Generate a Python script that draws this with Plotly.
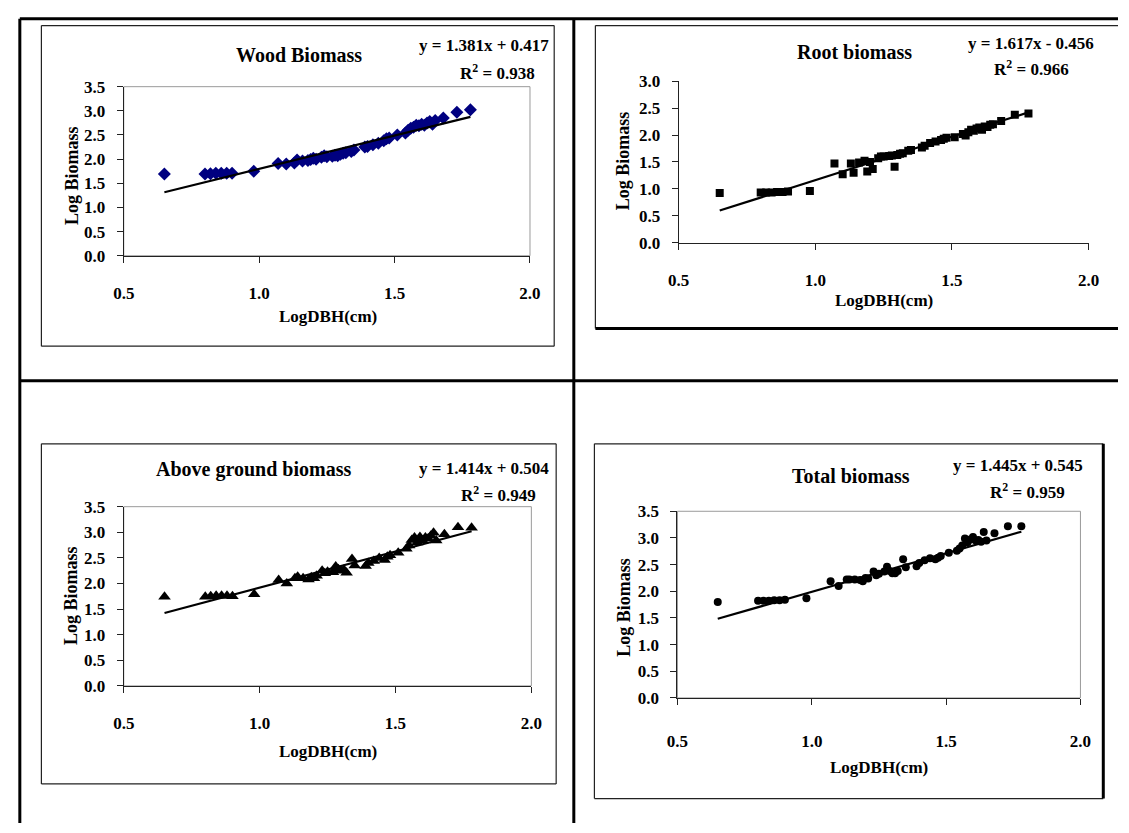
import plotly.graph_objects as go

W, H = 1129, 833

# ---------------- data ----------------
log_dbh = [0.65, 0.80, 0.82, 0.84, 0.86, 0.88, 0.90, 0.98, 1.07, 1.10, 1.13, 1.14, 1.16, 1.18, 1.19,
           1.20, 1.21, 1.23, 1.24, 1.25, 1.27, 1.28, 1.29, 1.30, 1.31, 1.32, 1.34, 1.35, 1.39, 1.40,
           1.42, 1.44, 1.46, 1.47, 1.48, 1.51, 1.54, 1.55, 1.56, 1.57, 1.58, 1.59, 1.60, 1.61, 1.62,
           1.63, 1.64, 1.65, 1.68, 1.73, 1.78]

wood_log_biomass = [1.69, 1.69, 1.70, 1.71, 1.71, 1.71, 1.71, 1.75, 1.91, 1.90, 1.92, 1.98, 1.96, 1.97, 1.99,
                    2.02, 2.00, 2.04, 2.07, 2.05, 2.06, 2.08, 2.07, 2.10, 2.12, 2.13, 2.16, 2.19, 2.25, 2.26,
                    2.30, 2.33, 2.38, 2.42, 2.44, 2.50, 2.54, 2.60, 2.64, 2.66, 2.70, 2.69, 2.72, 2.70, 2.75,
                    2.78, 2.72, 2.80, 2.85, 2.97, 3.02]

root_log_biomass = [0.92, 0.93, 0.93, 0.93, 0.94, 0.94, 0.95, 0.96, 1.47, 1.27, 1.47, 1.30, 1.49, 1.52, 1.32,
                    1.50, 1.37, 1.57, 1.60, 1.60, 1.61, 1.62, 1.41, 1.63, 1.65, 1.66, 1.71, 1.72, 1.77, 1.80,
                    1.85, 1.88, 1.91, 1.93, 1.95, 1.96, 2.02, 1.99, 2.05, 2.10, 2.08, 2.12, 2.14, 2.10, 2.16,
                    2.15, 2.19, 2.20, 2.26, 2.38, 2.40]

above_log_biomass = [1.74, 1.74, 1.75, 1.76, 1.76, 1.76, 1.75, 1.79, 2.07, 2.00, 2.10, 2.13, 2.10, 2.08, 2.12,
                     2.10, 2.15, 2.25, 2.20, 2.23, 2.22, 2.33, 2.28, 2.25, 2.27, 2.21, 2.48, 2.35, 2.34, 2.40,
                     2.44, 2.50, 2.46, 2.52, 2.55, 2.60, 2.68, 2.74, 2.85, 2.90, 2.80, 2.91, 2.84, 2.90, 2.88,
                     2.93, 2.99, 2.84, 2.96, 3.10, 3.09]

total_log_biomass = [1.80, 1.82, 1.82, 1.82, 1.83, 1.83, 1.84, 1.87, 2.19, 2.10, 2.22, 2.22, 2.22, 2.21, 2.19,
                     2.25, 2.24, 2.37, 2.30, 2.33, 2.37, 2.46, 2.38, 2.34, 2.34, 2.38, 2.60, 2.45, 2.47, 2.53,
                     2.58, 2.62, 2.60, 2.63, 2.66, 2.72, 2.76, 2.80, 2.86, 2.99, 2.92, 2.97, 3.02, 2.95, 2.96,
                     2.93, 3.11, 2.95, 3.09, 3.22, 3.22]

panel_titles = ["Wood Biomass", "Root biomass", "Above ground biomass", "Total biomass"]
slopes = [1.381, 1.617, 1.414, 1.445]
intercepts = [0.417, -0.456, 0.504, 0.545]
r_squared = ["0.938", "0.966", "0.949", "0.959"]
equations = ["y = 1.381x + 0.417", "y = 1.617x - 0.456", "y = 1.414x + 0.504", "y = 1.445x + 0.545"]
x_ticks = [0.5, 1.0, 1.5, 2.0]
y_ticks_35 = [0.0, 0.5, 1.0, 1.5, 2.0, 2.5, 3.0, 3.5]
y_ticks_30 = [0.0, 0.5, 1.0, 1.5, 2.0, 2.5, 3.0]

series = [wood_log_biomass, root_log_biomass, above_log_biomass, total_log_biomass]

# ---------------- styling / layout (pixel geometry) ----------------
FONT = "Liberation Serif"
plot_px = [(115, 529.3, 79.5, 252.5),
           (681, 1099, 74, 239),
           (115, 530.7, 509.3, 692.7),
           (679.7, 1090.7, 514, 705)]
y_ranges = [[0, 3.5], [0, 3.0], [0, 3.5], [0, 3.5]]
y_tickvals = [y_ticks_35, y_ticks_30, y_ticks_35, y_ticks_35]
markers = [dict(symbol="diamond", size=10, color="#000080"),
           dict(symbol="square", size=8, color="black"),
           dict(symbol="triangle-up", size=11, color="black"),
           dict(symbol="circle", size=8, color="black")]
borders = [True, False, True, True]
xlab_standoff = [16, 16, 16, 22]

txt_pos = [
    dict(title=(294, 47), eq=(482, 37), r2=(496, 64), yt=(62, 170), xt=(323, 315)),
    dict(title=(860, 44), eq=(1040, 35), r2=(1041, 60), yt=(625, 155), xt=(890, 298)),
    dict(title=(247, 471), eq=(482, 470), r2=(497, 496), yt=(62, 600), xt=(323, 760)),
    dict(title=(857, 478), eq=(1027, 467), r2=(1037, 493), yt=(625, 612), xt=(885, 776)),
]

def px_x(v):
    return v / W

def px_y(v):
    return 1 - v / H

def bfont(size):
    return dict(family=FONT, size=size, color="black", weight="bold")

fig = go.Figure()
annotations = []
shapes = []

for i in range(4):
    ax = "" if i == 0 else str(i + 1)
    xref, yref = "x" + ax, "y" + ax
    xs = log_dbh
    ys = series[i]
    fig.add_trace(go.Scatter(x=xs, y=ys, mode="markers", marker=markers[i],
                             xaxis=xref, yaxis=yref, showlegend=False, hoverinfo="skip"))
    x_line = [min(xs), max(xs)]
    y_line = [slopes[i] * v + intercepts[i] for v in x_line]
    fig.add_trace(go.Scatter(x=x_line, y=y_line, mode="lines",
                             line=dict(color="black", width=2.2),
                             xaxis=xref, yaxis=yref, showlegend=False, hoverinfo="skip"))
    l, r, t, b = plot_px[i]
    fig.layout["xaxis" + ax] = dict(
        domain=[px_x(l), px_x(r)], range=[0.5, 2.0], tickvals=x_ticks, tickformat=".1f",
        showgrid=False, zeroline=False, showline=True, linecolor="#222", linewidth=1,
        ticks="outside", ticklen=6, tickcolor="#222",
        tickfont=bfont(17),
        ticklabelstandoff=xlab_standoff[i], anchor=yref, fixedrange=True)
    fig.layout["yaxis" + ax] = dict(
        domain=[px_y(b), px_y(t)], range=y_ranges[i], tickvals=y_tickvals[i], tickformat=".1f",
        showgrid=False, zeroline=False, showline=True, linecolor="#222", linewidth=1,
        ticks="outside", ticklen=6, tickcolor="#222",
        tickfont=bfont(17),
        ticklabelstandoff=8, anchor=xref, fixedrange=True)
    if borders[i]:
        shapes.append(dict(type="rect", xref="paper", yref="paper",
                           x0=px_x(l), x1=px_x(r), y0=px_y(b), y1=px_y(t),
                           line=dict(color="#9a9a9a", width=1), layer="below"))
    p = txt_pos[i]
    annotations.append(dict(text=panel_titles[i], x=px_x(p["title"][0]), y=px_y(p["title"][1]),
                            xref="paper", yref="paper", showarrow=False, font=bfont(20),
                            xanchor="center", yanchor="middle"))
    annotations.append(dict(text=equations[i], x=px_x(p["eq"][0]), y=px_y(p["eq"][1]),
                            xref="paper", yref="paper", showarrow=False, font=bfont(17),
                            xanchor="center", yanchor="middle"))
    annotations.append(dict(text="R<sup>2</sup> = " + r_squared[i], x=px_x(p["r2"][0]),
                            y=px_y(p["r2"][1]), xref="paper", yref="paper", showarrow=False,
                            font=bfont(17), xanchor="center", yanchor="middle"))
    annotations.append(dict(text="Log Biomass", x=px_x(p["yt"][0]), y=px_y(p["yt"][1]),
                            xref="paper", yref="paper", showarrow=False, textangle=-90,
                            font=bfont(18), xanchor="center", yanchor="middle"))
    annotations.append(dict(text="LogDBH(cm)", x=px_x(p["xt"][0]), y=px_y(p["xt"][1]),
                            xref="paper", yref="paper", showarrow=False,
                            font=bfont(17), xanchor="center", yanchor="middle"))

def line(x0, y0, x1, y1, w=1.2, c="#222"):
    shapes.append(dict(type="line", xref="paper", yref="paper",
                       x0=px_x(x0), y0=px_y(y0), x1=px_x(x1), y1=px_y(y1),
                       line=dict(color=c, width=w)))

# table frame
line(9, 10, 1129, 10, 3, "black")
line(9, 10, 9, 833, 3, "black")
line(574, 10, 574, 833, 3, "black")
line(9, 380.5, 1129, 380.5, 3, "black")

# chart boxes
line(31, 17, 554, 17); line(31, 17, 31, 345); line(31, 345, 554, 345); line(554, 17, 554, 345)
line(596, 17, 1129, 17); line(596, 17, 596, 327); line(596, 327, 1129, 327, 3, "black")
line(31, 445, 556, 445); line(31, 445, 31, 793); line(31, 793, 556, 793); line(556, 445, 556, 793)
line(595, 445, 1114, 445); line(595, 445, 595, 808); line(595, 808, 1114, 808); line(1114, 445, 1114, 808, 3, "black")

fig.update_layout(width=W, height=H, autosize=False,
                  margin=dict(l=0, r=0, t=0, b=0),
                  paper_bgcolor="white", plot_bgcolor="rgba(0,0,0,0)",
                  annotations=annotations, shapes=shapes, hovermode=False,
                  font=dict(family=FONT, color="black"))

fig.write_html("out.html", config={"displayModeBar": False, "staticPlot": True},
               post_script="document.body.style.margin='0';document.body.style.padding='0';"
                           "document.documentElement.style.overflow='hidden';")
